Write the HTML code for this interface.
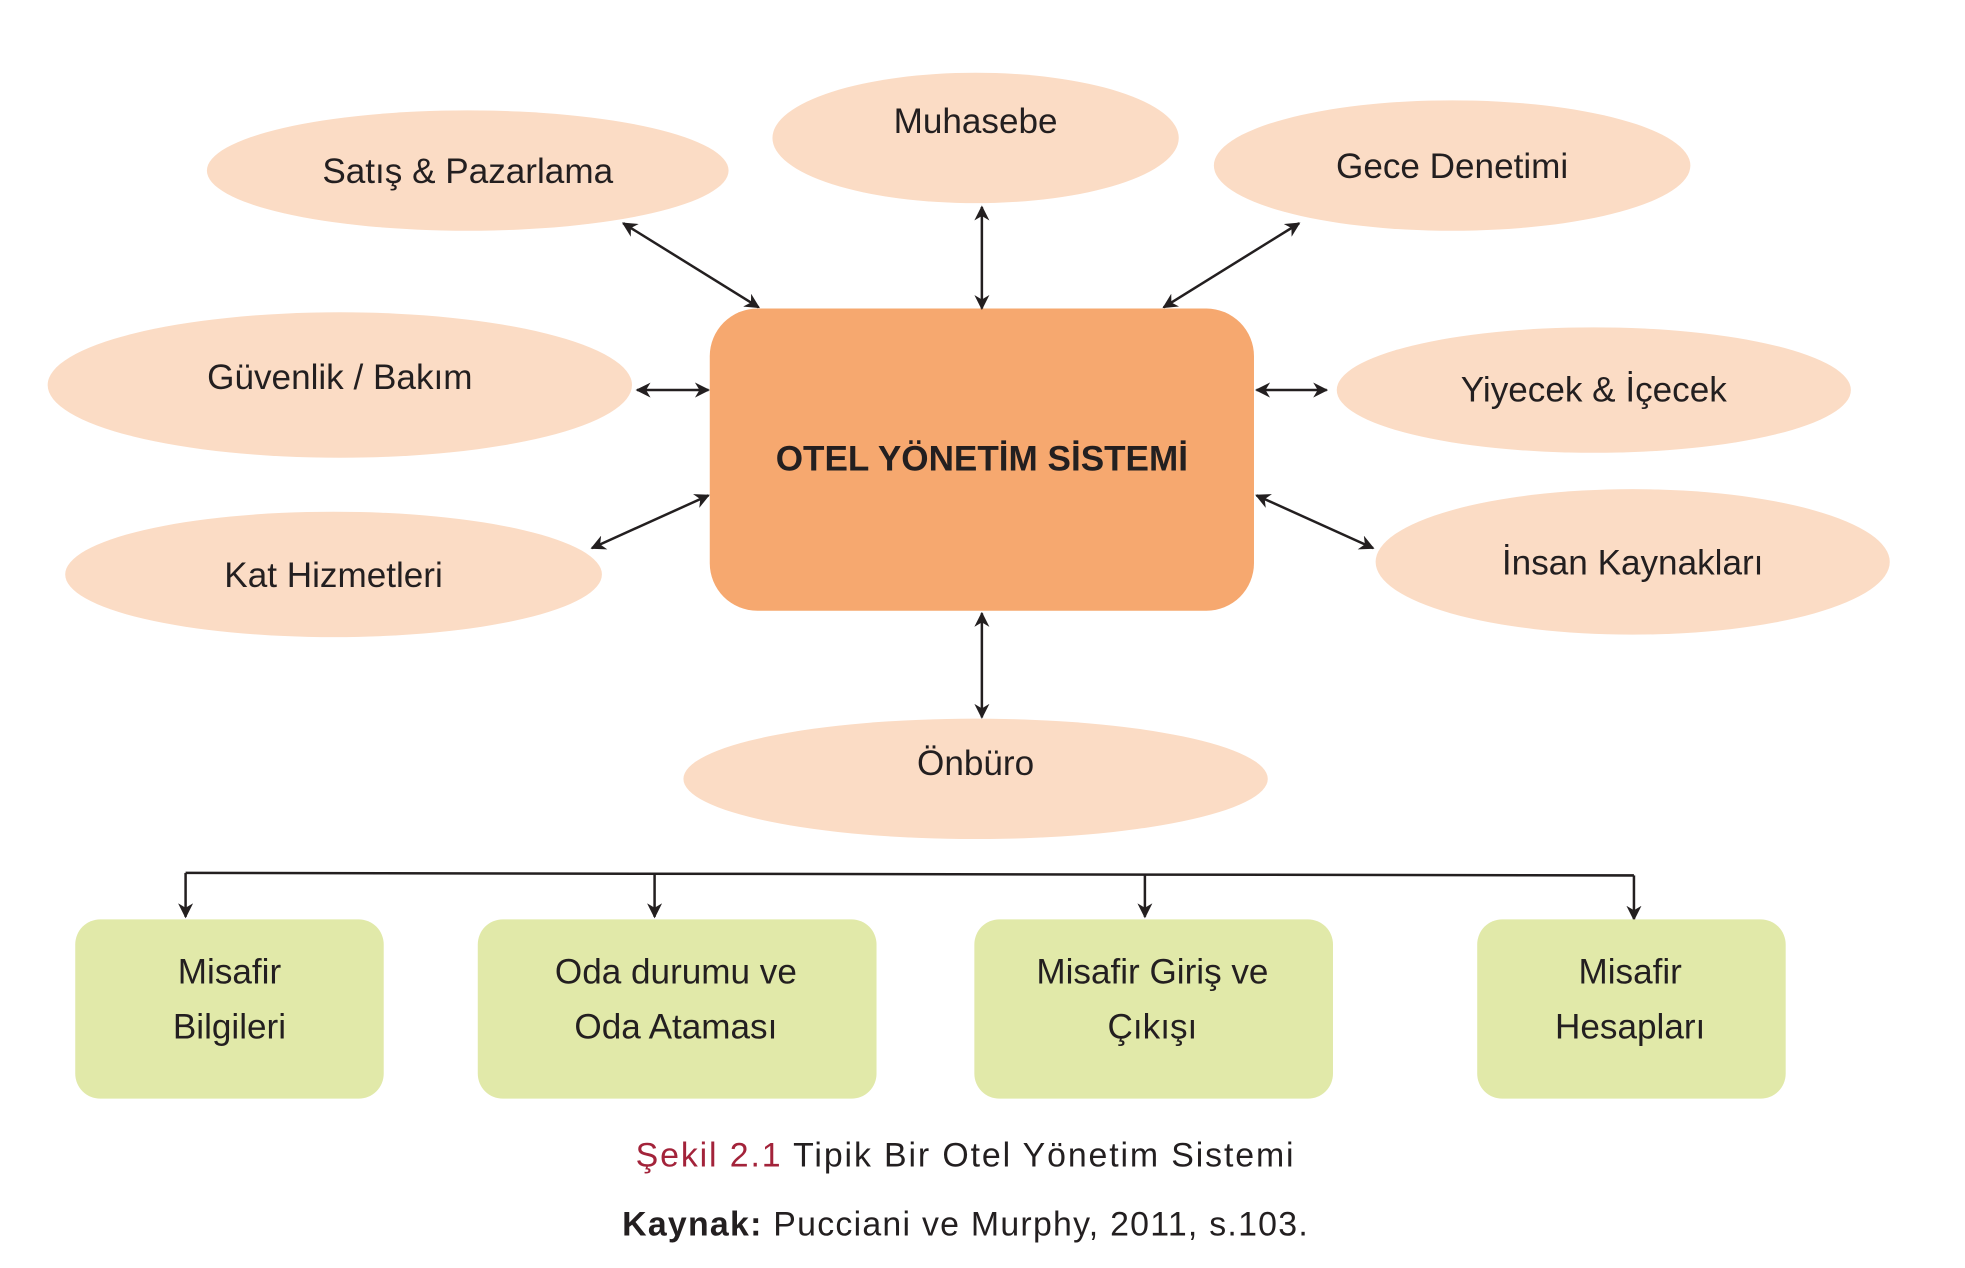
<!DOCTYPE html>
<html><head><meta charset="utf-8"><style>
html,body{margin:0;padding:0;background:#fff;}
svg{display:block;}
text{font-family:"Liberation Sans",sans-serif;fill:#231f20;}
</style></head><body>
<svg width="1965" height="1268" viewBox="0 0 1567 1011" preserveAspectRatio="none" xmlns="http://www.w3.org/2000/svg">
<defs>
<marker id="a" viewBox="0 0 10 10" refX="9" refY="5" markerWidth="6" markerHeight="6" orient="auto-start-reverse"><path d="M0,0 L10,5 L0,10 L3,5 z" fill="#231f20"/></marker>
</defs>
<g fill="#fbdcc5">
<ellipse cx="373" cy="136" rx="208" ry="48"/>
<ellipse cx="778" cy="110" rx="162" ry="52"/>
<ellipse cx="1158" cy="132" rx="190" ry="52"/>
<ellipse cx="271" cy="307" rx="233" ry="58"/>
<ellipse cx="1271" cy="311" rx="205" ry="50"/>
<ellipse cx="266" cy="458" rx="214" ry="50"/>
<ellipse cx="1302" cy="448" rx="205" ry="58"/>
<ellipse cx="778" cy="621" rx="233" ry="48"/>
</g>
<rect x="566" y="246" width="434" height="241" rx="38" fill="#f6a86f"/>
<text x="783" y="375" font-size="28" font-weight="bold" text-anchor="middle">OTEL YÖNETİM SİSTEMİ</text>
<g font-size="28" text-anchor="middle">
<text x="373" y="146">Satış &amp; Pazarlama</text>
<text x="778" y="106">Muhasebe</text>
<text x="1158" y="142">Gece Denetimi</text>
<text x="271" y="310">Güvenlik / Bakım</text>
<text x="1271" y="320">Yiyecek &amp; İçecek</text>
<text x="266" y="468">Kat Hizmetleri</text>
<text x="1302" y="458">İnsan Kaynakları</text>
<text x="778" y="618">Önbüro</text>
</g>
<g stroke="#231f20" stroke-width="2" fill="none" marker-start="url(#a)" marker-end="url(#a)">
<line x1="497" y1="178" x2="605" y2="245"/>
<line x1="783" y1="165" x2="783" y2="246"/>
<line x1="1036" y1="178" x2="928" y2="245"/>
<line x1="508" y1="311" x2="565" y2="311"/>
<line x1="1002" y1="311" x2="1058" y2="311"/>
<line x1="472" y1="437" x2="565" y2="395"/>
<line x1="1002" y1="395" x2="1095" y2="437"/>
<line x1="783" y1="489" x2="783" y2="572"/>
</g>
<g stroke="#231f20" stroke-width="2" fill="none">
<polyline points="148,696 1303,698"/>
<line x1="148" y1="696" x2="148" y2="731" marker-end="url(#a)"/>
<line x1="522" y1="697" x2="522" y2="731" marker-end="url(#a)"/>
<line x1="913" y1="697" x2="913" y2="731" marker-end="url(#a)"/>
<line x1="1303" y1="698" x2="1303" y2="733" marker-end="url(#a)"/>
</g>
<g fill="#e1e9a9">
<rect x="60" y="733" width="246" height="143" rx="20"/>
<rect x="381" y="733" width="318" height="143" rx="20"/>
<rect x="777" y="733" width="286" height="143" rx="20"/>
<rect x="1178" y="733" width="246" height="143" rx="20"/>
</g>
<g font-size="28" text-anchor="middle">
<text x="183" y="784">Misafir</text><text x="183" y="828">Bilgileri</text>
<text x="539" y="784">Oda durumu ve</text><text x="539" y="828">Oda Ataması</text>
<text x="919" y="784">Misafir Giriş ve</text><text x="919" y="828">Çıkışı</text>
<text x="1300" y="784">Misafir</text><text x="1300" y="828">Hesapları</text>
</g>
<text x="770" y="930" font-size="27" text-anchor="middle" letter-spacing="1.5"><tspan style="fill:#a3233a">Şekil 2.1</tspan> Tipik Bir Otel Yönetim Sistemi</text>
<text x="770" y="985" font-size="27" text-anchor="middle" letter-spacing="1"><tspan font-weight="bold">Kaynak:</tspan> Pucciani ve Murphy, 2011, s.103.</text>
</svg>
</body></html>
